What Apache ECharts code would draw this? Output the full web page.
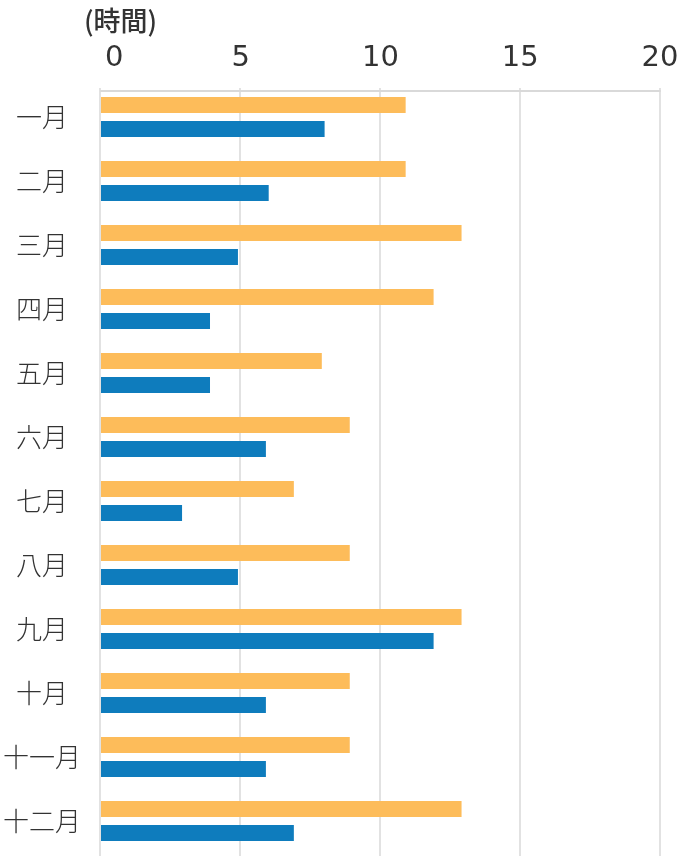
<!DOCTYPE html>
<html>
<head>
<meta charset="utf-8">
<script src="https://cdn.jsdelivr.net/npm/echarts@6/dist/echarts.min.js"></script>
<style>
html,body{margin:0;padding:0;background:#fff;}
#chart{width:686px;height:856px;}
</style>
</head>
<body>
<div id="chart"></div>
<script>
var categories = ['一月','二月','三月','四月','五月','六月','七月','八月','九月','十月','十一月','十二月'];
var orangeValues = [10.9, 10.9, 12.9, 11.9, 7.9, 8.9, 6.9, 8.9, 12.9, 8.9, 8.9, 12.9];
var blueValues = [8, 6, 4.9, 3.9, 3.9, 5.9, 2.9, 4.9, 11.9, 5.9, 5.9, 6.9];
var unitLabel = '(時間)';
var axisMin = 0, axisMax = 20, axisInterval = 5;

var FONT = '"Noto Sans CJK JP", "Noto Sans", sans-serif';
var NUMFONT = '"DejaVu Sans", "Noto Sans", sans-serif';
var chart = echarts.init(document.getElementById('chart'), null, {renderer: 'canvas'});
chart.setOption({
  animation: false,
  backgroundColor: '#ffffff',
  textStyle: {fontFamily: FONT},
  title: {
    text: unitLabel, left: 79, top: 2,
    textStyle: {fontFamily: FONT, fontSize: 27, fontWeight: 500, color: '#333333'}
  },
  grid: [
    {left: 100, right: 26, top: 88, bottom: 0, containLabel: false},
    {left: 100, right: 26, top: 85, height: 768, containLabel: false}
  ],
  xAxis: [
    {
      gridIndex: 0, type: 'value', min: axisMin, max: axisMax, interval: axisInterval,
      position: 'top',
      axisLine: {show: false}, axisTick: {show: false}, axisLabel: {show: false},
      splitLine: {show: true, lineStyle: {color: '#d9d9d9', width: 1.5}}
    },
    {
      gridIndex: 1, type: 'value', min: axisMin, max: axisMax, interval: axisInterval,
      position: 'top', offset: -6,
      axisLine: {show: true, lineStyle: {color: '#d9d9d9', width: 2}},
      axisTick: {show: false},
      splitLine: {show: false},
      axisLabel: {
        show: true, margin: 18, fontSize: 29, color: '#333333', fontFamily: NUMFONT,
        alignMinLabel: 'left', alignMaxLabel: 'center',
        formatter: function (v) { return v === 0 ? '{z|0}' : String(v); },
        rich: {z: {fontSize: 29, fontFamily: NUMFONT, color: '#333333', padding: [0, 0, 0, 4]}}
      }
    }
  ],
  yAxis: [
    {gridIndex: 0, type: 'value', show: false},
    {
      gridIndex: 1, type: 'category', data: categories, inverse: true,
      axisLine: {show: false}, axisTick: {show: false},
      axisLabel: {margin: 59, align: 'center', fontSize: 26, fontWeight: 300, color: '#333333', fontFamily: FONT}
    }
  ],
  series: [
    {
      type: 'bar', xAxisIndex: 1, yAxisIndex: 1, data: orangeValues,
      barWidth: 16, barGap: '50%', itemStyle: {color: '#FDBC5A'}
    },
    {
      type: 'bar', xAxisIndex: 1, yAxisIndex: 1, data: blueValues,
      barWidth: 16, barGap: '50%', itemStyle: {color: '#0E7CBD'}
    }
  ]
});
</script>
</body>
</html>
